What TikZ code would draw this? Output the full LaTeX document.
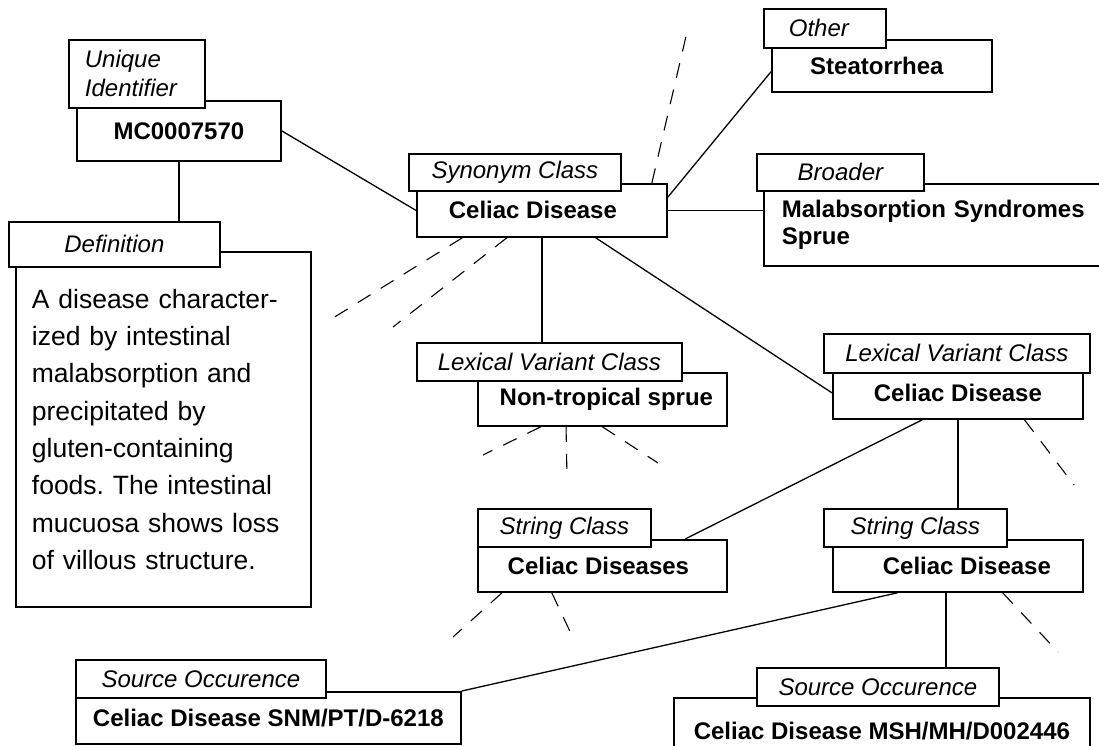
\documentclass[tikz,border=0pt]{standalone}
\usepackage{fontspec}
\setmainfont{Liberation Sans}
\frenchspacing
\tikzset{
  tab/.style={draw,fill=white,line width=1.8pt,inner sep=0pt,anchor=north west,font=\itshape\fontsize{24}{29}\selectfont},
  body/.style={draw,fill=white,line width=1.8pt,inner sep=0pt,anchor=north west,font=\bfseries\fontsize{24}{27}\selectfont},
  link/.style={line width=1.3pt},
  hint/.style={line width=1.1pt,dash pattern=on 15pt off 12pt}
}
\begin{document}
\begin{tikzpicture}[x=1pt,y=-1pt]
\useasboundingbox (0,0) rectangle (1099,746);
\fill[white] (0,0) rectangle (1099,746);
\clip (0,0) rectangle (1099,746);
\node[body,minimum width=204pt,minimum height=60pt] (mc) at (76,100) {MC0007570};
\node[tab,minimum height=68pt,align=left,text width=104pt,inner xsep=16pt] (uid) at (68,39) {Unique\\Identifier};
\node[body,font=\fontsize{26.5}{37.3}\selectfont,align=left,text width=263pt,inner xsep=16pt,minimum height=355pt] (defbody) at (15,251) {A disease character-\\ized by intestinal\\malabsorption and\\precipitated by\\gluten-containing\\foods. The intestinal\\mucuosa shows loss\\of villous structure.};
\node[tab,minimum width=211pt,minimum height=45pt] (deftab) at (8,221) {Definition};
\node[body,minimum width=250pt,minimum height=53pt] (syn) at (416,183) {Celiac Disease\hspace*{18pt}};
\node[tab,minimum width=212pt,minimum height=37pt] (syntab) at (408,153) {Synonym Class};
\node[body,minimum width=220pt,minimum height=52pt] (steat) at (771,39) {Steatorrhea\hspace*{10pt}};
\node[tab,minimum width=122pt,minimum height=39pt] (othertab) at (763,8) {Other\hspace*{12pt}};
\node[body,align=left,text width=320pt,inner xsep=18pt,minimum height=82pt] (broad) at (763,183) {Malabsorption Syndromes\\Sprue};
\node[tab,minimum width=167pt,minimum height=37pt] (broadtab) at (756,153) {Broader};
\node[body,minimum width=249pt,minimum height=53pt] (nts) at (477,372) {\hspace*{8pt}Non-tropical sprue};
\node[tab,minimum width=265pt,minimum height=38pt] (lvtab) at (416,342) {Lexical Variant Class};
\node[body,minimum width=250pt,minimum height=52pt] (lvR) at (832,366) {Celiac Disease};
\node[tab,minimum width=266pt,minimum height=39pt] (lvRtab) at (823,333) {Lexical Variant Class};
\node[body,minimum width=249pt,minimum height=52pt] (cds) at (477,539) {Celiac Diseases\hspace*{8pt}};
\node[tab,minimum width=173pt,minimum height=38pt] (sctab) at (477,508) {String Class};
\node[body,minimum width=250pt,minimum height=52pt] (scR) at (832,539) {\hspace*{18pt}Celiac Disease};
\node[tab,minimum width=183pt,minimum height=38pt] (scRtab) at (823,508) {String Class};
\node[body,minimum width=385pt,minimum height=52pt] (snm) at (75,691) {Celiac Disease SNM/PT/D-6218};
\node[tab,minimum width=250pt,minimum height=38pt] (snmtab) at (75,659) {Source Occurence};
\node[body,minimum width=416pt,minimum height=67pt] (msh) at (673,697) {Celiac Disease MSH/MH/D002446};
\node[tab,minimum width=242pt,minimum height=38pt] (mshtab) at (756,667) {Source Occurence};
\draw[link] (mc.east) -- (syn.west);
\draw[link] (mc.south) -- (mc.south |- deftab.north);
\draw[link] (syn.east) -- (syn.east -| broad.west);
\draw[link] (syn.6) -- (steat.183);
\draw[link] (syn.south) -- (syn.south |- lvtab.north);
\draw[link] (syn.-27.5) -- (lvR.west);
\draw[link] (lvR.217) -- (cds.18);
\draw[link] (lvR.south) -- (lvR.south |- scRtab.north);
\draw[link] (scR.204) -- (snm.north east);
\draw[link] ([xshift=-12pt]scR.south) -- ([xshift=-12pt]scR.south |- mshtab.north);
\coordinate (synUp) at (687,32);
\coordinate (synLeftA) at (333,318);
\coordinate (synLeftB) at (393,327);
\coordinate (ntsLeft) at (483,455);
\coordinate (ntsMid) at (567,478);
\coordinate (ntsRight) at (658,463);
\coordinate (cdsLeft) at (453,637);
\coordinate (cdsRight) at (574,640);
\coordinate (lvRRight) at (1074,485);
\coordinate (scRRight) at (1058,652);
\draw[hint] (syn.14.6) -- (synUp);
\draw[hint] (syn.199) -- (synLeftA);
\draw[hint] (syn.218) -- (synLeftB);
\draw[hint] (nts.204) -- (ntsLeft);
\draw[hint] (nts.217.5) -- (ntsMid);
\draw[hint] (nts.south) -- (ntsRight);
\draw[hint] (cds.195) -- (cdsLeft);
\draw[hint] (cds.208) -- (cdsRight);
\draw[hint] (lvR.-22) -- (lvRRight);
\draw[hint] (scR.-31) -- (scRRight);
\end{tikzpicture}
\end{document}
